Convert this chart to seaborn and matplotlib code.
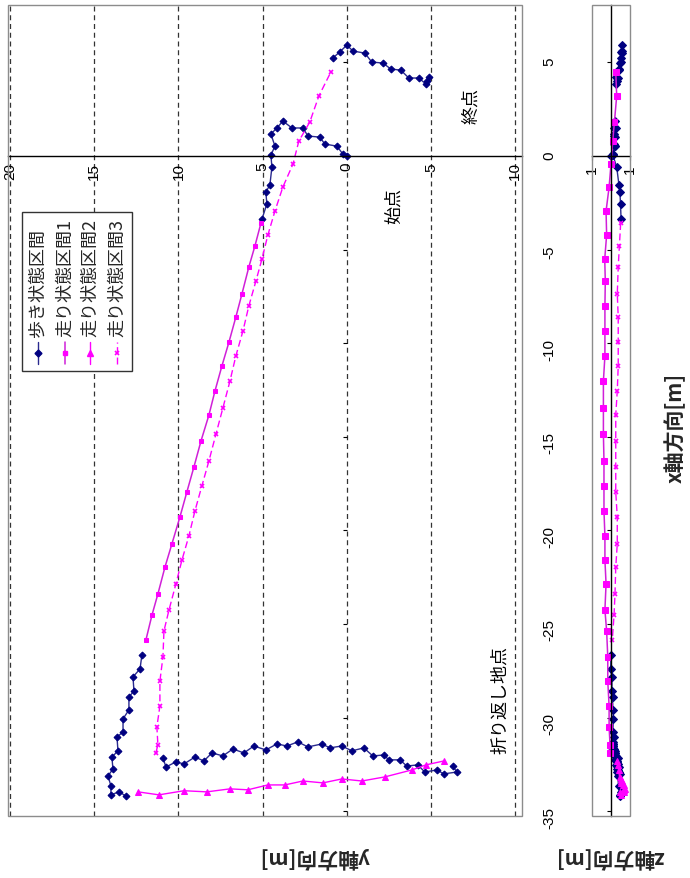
import numpy as np
import matplotlib
matplotlib.use("Agg")
import matplotlib.pyplot as plt
import seaborn as sns
from matplotlib.patches import Rectangle

# ---------------- data (x: x軸方向, y: y軸方向, z: z軸方向) ----------------
walk_start_x = [0.00, 0.11, 0.53, 0.64, 1.01, 1.07, 1.50, 1.50, 1.87, 1.50, 1.18, 0.53, 0.05, -0.59, -1.55, -1.92, -2.56, -3.37]
walk_start_y = [0.00, 0.24, 0.59, 1.31, 1.60, 2.31, 2.61, 3.26, 3.80, 4.15, 4.51, 4.27, 4.51, 4.45, 4.57, 4.81, 4.75, 5.04]
walk_start_z = [0.00, -0.10, -0.20, -0.15, -0.20, -0.18, -0.25, -0.20, -0.22, -0.18, -0.15, -0.20, -0.10, -0.30, -0.42, -0.47, -0.50, -0.53]

run1_x = [-3.58, -4.81, -5.93, -7.37, -8.60, -9.94, -11.22, -12.55, -13.84, -15.22, -16.61, -17.95, -19.28, -20.73, -21.96, -23.40, -24.52, -25.85]
run1_y = [5.10, 5.46, 5.82, 6.23, 6.59, 7.00, 7.42, 7.83, 8.19, 8.66, 9.08, 9.50, 9.91, 10.39, 10.80, 11.22, 11.57, 11.93]
run1_z = [-0.51, -0.44, -0.38, -0.33, -0.38, -0.38, -0.38, -0.33, -0.25, -0.25, -0.25, -0.25, -0.33, -0.33, -0.25, -0.21, -0.16, -0.07]

walk_turn1_x = [-26.66, -27.40, -27.83, -28.58, -28.90, -29.59, -30.07, -30.77, -31.04, -31.78, -32.11, -32.75, -33.12, -33.65, -34.13, -33.97, -34.19]
walk_turn1_y = [12.17, 12.28, 12.70, 12.64, 12.94, 12.94, 13.29, 13.29, 13.65, 13.59, 13.95, 13.89, 14.18, 14.01, 14.01, 13.53, 13.12]
walk_turn1_z = [0.00, 0.02, -0.05, -0.05, -0.08, -0.10, -0.12, -0.10, -0.15, -0.20, -0.25, -0.30, -0.35, -0.40, -0.45, -0.50, -0.45]

run2_x = [-33.97, -34.13, -33.91, -33.97, -33.81, -33.86, -33.60, -33.60, -33.39, -33.49, -33.28, -33.39, -33.17, -32.80, -32.53, -32.32]
run2_y = [12.40, 11.16, 9.67, 8.31, 6.94, 5.88, 4.69, 3.68, 2.61, 1.42, 0.30, -0.89, -2.26, -3.86, -4.69, -5.76]
run2_z = [-0.45, -0.55, -0.65, -0.70, -0.72, -0.70, -0.68, -0.62, -0.60, -0.55, -0.52, -0.50, -0.45, -0.40, -0.35, -0.30]

walk_turn2_x = [-32.59, -32.91, -33.01, -32.80, -32.91, -32.53, -32.59, -32.26, -32.26, -32.00,
                -32.05, -31.62, -31.78, -31.52, -31.62, -31.41, -31.57, -31.30, -31.52, -31.41,
                -31.73, -31.52, -31.89, -31.68, -32.05, -31.89, -32.32, -32.11, -32.48, -32.37,
                -32.64, -32.16]
walk_turn2_y = [-6.29, -6.53, -5.76, -5.34, -4.63, -4.21, -3.56, -3.15, -2.49, -2.20,
                -1.54, -1.01, -0.30, 0.30, 1.01, 1.48, 2.31, 2.91, 3.56, 4.15,
                4.81, 5.52, 6.11, 6.77, 7.36, 8.01, 8.49, 9.02, 9.67, 10.15,
                10.74, 10.92]
walk_turn2_z = [-0.30, -0.40, -0.45, -0.35, -0.30, -0.25, -0.30, -0.20, -0.25, -0.15,
                -0.20, -0.10, -0.15, -0.10, -0.05, -0.10, -0.05, -0.10, -0.05, -0.10,
                -0.15, -0.10, -0.20, -0.15, -0.25, -0.20, -0.30, -0.25, -0.35, -0.30,
                -0.40, -0.35]

run3_x = [-31.89, -31.46, -30.50, -29.38, -28.05, -26.76, -25.37, -24.25, -22.86, -21.58,
          -20.30, -18.96, -17.63, -16.29, -14.85, -13.46, -12.02, -10.68, -9.35, -8.01,
          -6.68, -5.50, -4.22, -2.94, -1.66, -0.43, 0.80, 1.82, 3.21, 4.49]
run3_y = [11.34, 11.22, 11.28, 11.10, 11.10, 10.92, 10.86, 10.56, 10.15, 9.79,
          9.38, 9.02, 8.61, 8.19, 7.77, 7.36, 6.94, 6.59, 6.17, 5.82,
          5.40, 5.04, 4.69, 4.27, 3.80, 3.20, 2.85, 2.20, 1.66, 0.95]
run3_z = [0.05, 0.05, 0.10, 0.10, 0.17, 0.17, 0.23, 0.32, 0.26, 0.32,
          0.32, 0.37, 0.37, 0.37, 0.40, 0.40, 0.40, 0.32, 0.32, 0.32,
          0.30, 0.33, 0.23, 0.26, 0.10, 0.00, -0.09, -0.18, -0.30, -0.25]

walk_end_x = [5.24, 5.56, 5.93, 5.61, 5.50, 5.02, 4.97, 4.65, 4.59, 4.17, 4.17, 3.85, 4.01, 4.22]
walk_end_y = [0.83, 0.42, 0.00, -0.36, -1.07, -1.48, -2.14, -2.61, -3.20, -3.68, -4.27, -4.69, -4.75, -4.87]
walk_end_z = [-0.50, -0.55, -0.60, -0.58, -0.60, -0.50, -0.45, -0.42, -0.40, -0.35, -0.30, -0.25, -0.30, -0.28]

series_names = ["歩き状態区間", "走り状態区間1", "走り状態区間2", "走り状態区間3"]
x_ticks = [5, 0, -5, -10, -15, -20, -25, -30, -35]
y_ticks = [20, 15, 10, 5, 0, -5, -10]
z_ticks = [1, -1]
annotations = [("始点", -2.79, -2.62), ("終点", -7.36, 2.72), ("折り返し地点", -9.08, -29.0)]

# ---------------- style ----------------
sns.set_theme(style="white")
plt.rcParams["font.family"] = ["Liberation Sans", "Noto Sans CJK JP", "DejaVu Sans"]
JP = ["Noto Sans CJK JP", "DejaVu Sans"]

NAVY = "#000080"
NAVY_LINE = "#2a2a8f"
MAG = "#FF00FF"
MAG_LINE = "#D020D8"

walk_style = dict(color=NAVY_LINE, marker="D", markersize=3.5, markerfacecolor=NAVY,
                  markeredgecolor=NAVY, linewidth=1.0)
run1_style = dict(color=MAG_LINE, marker="s", markersize=3.5, markerfacecolor=MAG,
                  markeredgecolor=MAG, linewidth=1.1)
run2_style = dict(color=MAG, marker="^", markersize=4.0, markerfacecolor=MAG,
                  markeredgecolor=MAG, linewidth=1.0)
run3_style = dict(color=MAG, marker="x", markersize=3.2, markeredgewidth=1.2,
                  markeredgecolor=MAG, linewidth=1.0, dashes=(5, 2.5))

fig = plt.figure(figsize=(6.9, 8.79), dpi=100)
FB, FH = 1 - 817 / 879, 811 / 879
ax = fig.add_axes([8 / 690, FB, 514 / 690, FH])
axz = fig.add_axes([592 / 690, FB, 38 / 690, FH])


def draw(axis, hx, vy, style):
    sns.lineplot(x=hx, y=vy, ax=axis, sort=False, estimator=None, legend=False, **style)


# main panel: horizontal = y, vertical = x
walk_segments = [(walk_start_x, walk_start_y, walk_start_z), (walk_turn1_x, walk_turn1_y, walk_turn1_z),
                 (walk_turn2_x, walk_turn2_y, walk_turn2_z), (walk_end_x, walk_end_y, walk_end_z)]
for sx, sy, sz in walk_segments:
    draw(ax, sy, sx, walk_style)
draw(ax, run1_y, run1_x, run1_style)
draw(ax, run2_y, run2_x, run2_style)
draw(ax, run3_y, run3_x, run3_style)

ax.set_xlim(20.12, -10.4)
ax.set_ylim(-35.26, 8.07)
ax.set_xticks(y_ticks, labels=[str(v) for v in y_ticks], fontsize=10, fontweight="bold")
ax.set_yticks(x_ticks, labels=[str(v) for v in x_ticks], fontsize=10, fontweight="bold")
ax.set_xlabel("")
ax.set_ylabel("")
for s in ["top", "right"]:
    ax.spines[s].set_visible(False)
ax.spines["bottom"].set_position(("data", 0))
ax.spines["bottom"].set_color("black")
ax.spines["bottom"].set_linewidth(1.0)
ax.spines["left"].set_position(("data", 0))
ax.spines["left"].set_visible(False)
ax.xaxis.grid(True, linestyle=(0, (4, 3)), color="#333333", linewidth=0.9)
ax.yaxis.grid(False)
ax.tick_params(axis="x", bottom=True, top=False, length=0, pad=4, labelrotation=90,
               labelbottom=True, colors="black")
ax.tick_params(axis="y", left=True, right=False, length=3, width=0.8, direction="out",
               labelleft=False, labelright=True, labelrotation=90, pad=12, color="black",
               labelcolor="black")
ax.add_patch(Rectangle((0, 0), 1, 1, transform=ax.transAxes, fill=False,
                       edgecolor="#8c8c8c", linewidth=1.0, clip_on=False, zorder=6))

for text, yy, xx in annotations:
    ax.text(yy, xx, text, rotation=90, ha="center", va="center", fontsize=13,
            family=JP, color="black")

# legend (drawn rotated like the chart)
lx0, ly0, lw, lh = 0.027, 0.549, 0.214, 0.196
ax.add_patch(Rectangle((lx0, ly0), lw, lh, transform=ax.transAxes, facecolor="white",
                       edgecolor="#333333", linewidth=1.0, zorder=7))
leg_styles = [walk_style, run1_style, run2_style, run3_style]
leg_x = [0.058, 0.111, 0.160, 0.212]
for name, st, xp in zip(series_names, leg_styles, leg_x):
    line_kw = {k: v for k, v in st.items() if not k.startswith("marker")}
    ax.plot([xp, xp], [0.557, 0.585], transform=ax.transAxes, zorder=8, **line_kw)
    mk = {k: v for k, v in st.items() if k.startswith("marker")}
    ax.plot([xp], [0.571], transform=ax.transAxes, linestyle="none", zorder=9, **mk)
    ax.text(xp, 0.592, name, rotation=90, ha="center", va="bottom", fontsize=13,
            family=JP, transform=ax.transAxes, zorder=9)

# z panel: horizontal = z, vertical = x
for sx, sy, sz in walk_segments:
    draw(axz, sz, sx, dict(walk_style, markersize=4.2))
draw(axz, run1_z, run1_x, run3_style)
draw(axz, run2_z, run2_x, dict(run2_style, markersize=4.6))
draw(axz, run3_z, run3_x, dict(run1_style, markersize=4.6))

axz.set_xlim(1, -1)
axz.set_ylim(-35.26, 8.07)
axz.set_xticks(z_ticks, labels=[str(v) for v in z_ticks], fontsize=10, fontweight="bold")
axz.set_yticks(x_ticks)
axz.set_xlabel("")
axz.set_ylabel("")
for s in ["top", "right"]:
    axz.spines[s].set_visible(False)
axz.spines["bottom"].set_position(("data", 0))
axz.spines["left"].set_position(("data", 0))
for s in ["bottom", "left"]:
    axz.spines[s].set_color("black")
    axz.spines[s].set_linewidth(1.0)
axz.grid(False)
axz.tick_params(axis="x", bottom=True, length=3, width=0.8, direction="out", pad=3,
                labelrotation=90, colors="black")
axz.tick_params(axis="y", left=True, length=3, width=0.8, direction="out",
                labelleft=False, color="black")
axz.add_patch(Rectangle((0, 0), 1, 1, transform=axz.transAxes, fill=False,
                        edgecolor="#8c8c8c", linewidth=1.0, clip_on=False, zorder=6))

# axis titles
fig.text(315 / 690, 1 - 858 / 879, "y軸方向[m]", rotation=180, ha="center", va="center",
         fontsize=15, fontweight="bold", family=JP)
fig.text(610 / 690, 1 - 858 / 879, "z軸方向[m]", rotation=180, ha="center", va="center",
         fontsize=15, fontweight="bold", family=JP)
fig.text(675 / 690, 1 - 428 / 879, "x軸方向[m]", rotation=90, ha="center", va="center",
         fontsize=15, fontweight="bold", family=JP)

fig.savefig("out.png", dpi=100, facecolor="white")
